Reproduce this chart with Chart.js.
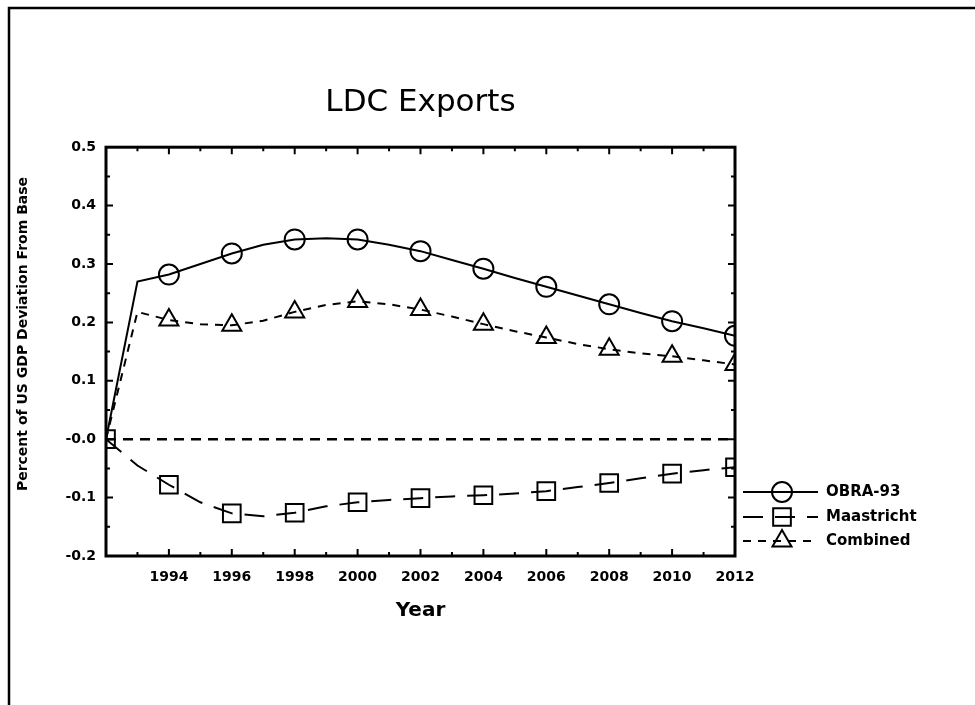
<!DOCTYPE html>
<html>
<head>
<meta charset="utf-8">
<title>LDC Exports</title>
<script src="https://cdn.jsdelivr.net/npm/chart.js@4.4.1/dist/chart.umd.min.js"></script>
<style>
  html, body { margin: 0; padding: 0; background: #fff; }
  #wrap { width: 975px; height: 705px; }
</style>
</head>
<body>
<div id="wrap"><canvas id="chart" width="975" height="705"></canvas></div>
<script>
// values, one per year
const years = [1992, 1993, 1994, 1995, 1996, 1997, 1998, 1999, 2000, 2001, 2002,
  2003, 2004, 2005, 2006, 2007, 2008, 2009, 2010, 2011, 2012];
const obra93 = [0, 0.27, 0.282, 0.30, 0.318, 0.333, 0.342, 0.344, 0.342, 0.333, 0.322,
  0.307, 0.292, 0.276, 0.261, 0.246, 0.231, 0.216, 0.202, 0.19, 0.177];
const maastricht = [0, -0.045, -0.078, -0.108, -0.127, -0.132, -0.126, -0.115, -0.108, -0.104, -0.101,
  -0.098, -0.096, -0.093, -0.089, -0.082, -0.075, -0.067, -0.059, -0.053, -0.048];
const combined = [0, 0.218, 0.204, 0.197, 0.195, 0.203, 0.218, 0.23, 0.236, 0.231, 0.222,
  0.21, 0.197, 0.185, 0.174, 0.163, 0.154, 0.147, 0.142, 0.135, 0.128];
const zeroYears = [1992, 2012];
const zeroLine = [0, 0];

const markerYears = [1994, 1996, 1998, 2000, 2002, 2004, 2006, 2008, 2010, 2012];
const xTickValues = [1994, 1996, 1998, 2000, 2002, 2004, 2006, 2008, 2010, 2012];
const xTickLabels = ["1994", "1996", "1998", "2000", "2002", "2004", "2006", "2008", "2010", "2012"];
const yTickValues = [-0.2, -0.1, 0, 0.1, 0.2, 0.3, 0.4, 0.5];
const yTickLabels = ["-0.2", "-0.1", "-0.0", "0.1", "0.2", "0.3", "0.4", "0.5"];

Chart.defaults.font.family = "'DejaVu Sans', sans-serif";
Chart.defaults.color = "#000";

function pts(xs, ys) {
  return xs.map((x, i) => ({ x: x, y: ys[i] }));
}

function markerRadius(r, extra) {
  return (ctx) => {
    if (!ctx.raw) return 0;
    if (markerYears.includes(ctx.raw.x) || (extra && extra.includes(ctx.raw.x))) return r;
    return 0;
  };
}

const series = [
  { label: "OBRA-93", data: pts(years, obra93), borderDash: [], pointStyle: "circle",
    pointRadius: markerRadius(10), legendRadius: 10 },
  { label: "Maastricht", data: pts(years, maastricht), borderDash: [20, 12], pointStyle: "rect",
    pointRadius: markerRadius(12.5, [1992]), legendRadius: 12.5 },
  { label: "Combined", data: pts(years, combined), borderDash: [8, 7], pointStyle: "triangle",
    pointRadius: markerRadius(11), legendRadius: 11 },
];

const datasets = series.map((s) => ({
  label: s.label,
  data: s.data,
  borderColor: "#000",
  borderWidth: 2,
  borderDash: s.borderDash,
  pointStyle: s.pointStyle,
  pointRadius: s.pointRadius,
  pointHoverRadius: s.pointRadius,
  pointBorderWidth: 2,
  pointBorderColor: "#000",
  pointBackgroundColor: "rgba(0,0,0,0)",
  tension: 0,
  clip: 0,
}));

datasets.push({
  label: "zero",
  data: pts(zeroYears, zeroLine),
  borderColor: "#000",
  borderWidth: 2.5,
  borderDash: [10, 7],
  pointRadius: 0,
  tension: 0,
  clip: 0,
});

function drawMarker(ctx, style, radius, x, y) {
  ctx.save();
  ctx.setLineDash([]);
  ctx.lineWidth = 2;
  ctx.strokeStyle = "#000";
  ctx.fillStyle = "rgba(0,0,0,0)";
  Chart.helpers.drawPoint(ctx, { pointStyle: style, radius: radius, rotation: 0, borderWidth: 2 }, x, y);
  ctx.restore();
}

const framePlugin = {
  id: "frame",
  afterDatasetsDraw(chart) {
    const { ctx, chartArea: a, scales } = chart;
    const x = scales.x, y = scales.y;
    ctx.save();
    ctx.strokeStyle = "#000";
    ctx.setLineDash([]);

    // inward tick marks on all four sides
    ctx.lineWidth = 2;
    years.forEach((yr) => {
      if (yr === years[0] || yr === years[years.length - 1]) return;
      const px = x.getPixelForValue(yr);
      const len = yr % 2 === 0 ? 7 : 4;
      ctx.beginPath();
      ctx.moveTo(px, a.bottom); ctx.lineTo(px, a.bottom - len);
      ctx.moveTo(px, a.top); ctx.lineTo(px, a.top + len);
      ctx.stroke();
    });
    for (let i = 1; i < 14; i++) {
      const py = y.getPixelForValue(-0.2 + i * 0.05);
      const len = i % 2 === 0 ? 7 : 4;
      ctx.beginPath();
      ctx.moveTo(a.left, py); ctx.lineTo(a.left + len, py);
      ctx.moveTo(a.right, py); ctx.lineTo(a.right - len, py);
      ctx.stroke();
    }

    // plot frame
    ctx.lineWidth = 3;
    ctx.strokeRect(a.left, a.top, a.right - a.left, a.bottom - a.top);

    // y axis title
    ctx.save();
    ctx.translate(23, 334);
    ctx.rotate(-Math.PI / 2);
    ctx.font = "bold 14px 'DejaVu Sans', sans-serif";
    ctx.fillStyle = "#000";
    ctx.textAlign = "center";
    ctx.textBaseline = "middle";
    ctx.fillText("Percent of US GDP Deviation From Base", 0, 0);
    ctx.restore();

    // legend: line sample, marker, label
    const rows = [492, 517, 541];
    series.forEach((s, i) => {
      const ry = rows[i];
      ctx.save();
      ctx.lineWidth = 2;
      ctx.setLineDash(s.borderDash);
      ctx.beginPath();
      ctx.moveTo(743, ry);
      ctx.lineTo(818, ry);
      ctx.stroke();
      ctx.restore();
      drawMarker(ctx, s.pointStyle, s.legendRadius, 782, ry);
      ctx.font = "bold 15px 'DejaVu Sans', sans-serif";
      ctx.fillStyle = "#000";
      ctx.textAlign = "left";
      ctx.textBaseline = "middle";
      ctx.fillText(s.label, 826, ry);
    });

    // page border
    ctx.lineWidth = 2.5;
    ctx.beginPath();
    ctx.moveTo(9, 705);
    ctx.lineTo(9, 8);
    ctx.lineTo(975, 8);
    ctx.stroke();
    ctx.restore();
  },
};

new Chart(document.getElementById("chart"), {
  type: "line",
  data: { datasets: datasets },
  plugins: [framePlugin],
  options: {
    responsive: false,
    animation: false,
    events: [],
    layout: { padding: { left: 0, right: 240, top: 0, bottom: 0 } },
    plugins: {
      legend: { display: false },
      tooltip: { enabled: false },
      title: {
        display: true,
        text: "LDC Exports",
        fullSize: false,
        font: { size: 31, weight: "normal" },
        color: "#000",
        padding: { top: 84, bottom: 26 },
      },
    },
    scales: {
      x: {
        type: "linear",
        min: 1992,
        max: 2012,
        grid: { display: false, drawTicks: false },
        border: { display: false },
        afterBuildTicks: (s) => { s.ticks = xTickValues.map((v) => ({ value: v })); },
        afterFit: (s) => { s.height = 149; },
        ticks: {
          padding: 13,
          maxRotation: 0,
          autoSkip: false,
          font: { size: 14, weight: "bold" },
          callback: (v, i) => xTickLabels[i],
        },
        title: {
          display: true,
          text: "Year",
          font: { size: 20, weight: "bold" },
          padding: { top: 0, bottom: 82 },
        },
      },
      y: {
        min: -0.2,
        max: 0.5,
        grid: { display: false, drawTicks: false },
        border: { display: false },
        afterBuildTicks: (s) => { s.ticks = yTickValues.map((v) => ({ value: v })); },
        afterFit: (s) => { s.width = 106; },
        ticks: {
          padding: 10,
          autoSkip: false,
          font: { size: 14, weight: "bold" },
          callback: (v, i) => yTickLabels[i],
        },
      },
    },
  },
});
</script>
</body>
</html>
